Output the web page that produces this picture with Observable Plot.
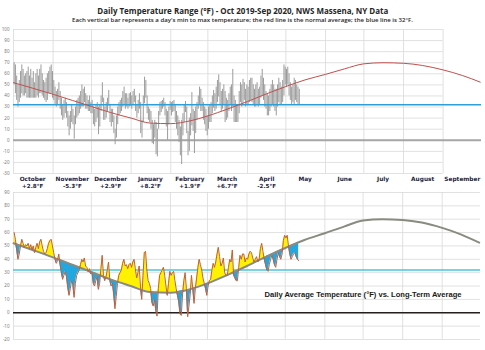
<!DOCTYPE html>
<html><head><meta charset="utf-8">
<script src="https://cdn.jsdelivr.net/npm/d3@7"></script>
<script src="https://cdn.jsdelivr.net/npm/@observablehq/plot@0.6"></script>
<style>
html,body{margin:0;padding:0;background:#fff;}
body{width:485px;height:350px;overflow:hidden;position:relative;font-family:"Open Sans",sans-serif;}
.ttl{position:absolute;left:0;width:485px;text-align:center;white-space:nowrap;color:#262626;line-height:1;}
.ttl span{display:inline-block;transform-origin:center;}
#title{top:6px;font-size:9.2px;font-weight:700;}
#sub{top:18px;font-size:5.4px;font-weight:600;}
#btitle{position:absolute;left:264px;width:197px;top:291px;line-height:1;text-align:center;white-space:nowrap;font-family:"Liberation Sans",Arial,sans-serif;font-weight:700;font-size:7px;color:#1a1a1a;}
#btitle span{display:inline-block;transform-origin:center;}
#top{position:absolute;top:26px;left:0;}
#bot{position:absolute;top:190px;left:0;}
</style></head><body>
<div id="title" class="ttl"><span>Daily Temperature Range (°F) - Oct 2019-Sep 2020, NWS Massena, NY Data</span></div>
<div id="sub" class="ttl"><span>Each vertical bar represents a day's min to max temperature; the red line is the normal average; the blue line is 32°F.</span></div>
<div id="top"></div>
<div id="bot"></div>
<div id="btitle"><span>Daily Average Temperature (°F) vs. Long-Term Average</span></div>
<script>
// ---- daily max / min temperatures (°F), Oct 1 2019 – May 11 2020 ----
const octMax = [70,68,58,50,54,62,68,64,58,60,62,66,58,64,56,62,52,60,64,58,64,68,60,54,52,56,60,62,66,68,62];
const octMin = [50,42,36,30,34,38,42,40,40,42,38,38,38,38,38,38,38,38,40,38,42,42,40,38,36,34,36,42,42,42,38];
const novMax = [54,48,44,46,52,44,38,32,36,38,34,26,22,26,32,28,22,30,36,38,40,44,50,46,48,42,40,36,40,34];
const novMin = [36,32,30,32,36,28,22,18,20,24,20,12,4,10,16,14,1,14,20,22,24,28,30,30,34,28,28,26,26,24];
const decMax = [36,30,28,32,34,30,32,40,52,38,30,34,38,45,32,28,28,22,10,22,30,34,36,38,44,48,42,42,38,42,43];
const decMin = [24,14,12,16,20,5,12,26,34,18,18,20,26,31,16,12,16,6,-4,2,14,22,24,26,30,32,28,30,28,30,31];
const janMax = [40,44,46,40,32,36,42,34,18,40,57,54,40,30,28,26,18,14,18,16,10,26,34,35,36,38,34,28,26,30,35];
const janMin = [28,32,34,26,20,24,28,6,2,16,33,38,24,18,16,10,-3,-4,2,-13,-15,10,22,25,28,30,22,12,0,14,27];
const febMax = [34,35,36,32,26,22,18,12,18,24,32,35,30,8,20,24,43,28,26,30,34,40,48,46,38,34,30,28,22];
const febMin = [22,25,26,16,10,4,-2,-14,-22,4,16,25,6,-14,-10,4,13,8,-12,6,18,28,32,26,26,18,14,8,4];
const marMax = [30,32,34,40,45,42,48,54,59,52,44,46,50,44,38,36,42,48,50,64,40,36,32,32,44,52,50,55,52,46,50];
const marMin = [10,16,16,24,29,26,28,34,39,32,26,28,32,16,18,20,26,32,26,30,16,16,16,16,24,34,30,33,36,30,32];
const aprMax = [48,54,56,56,50,46,50,52,46,48,58,64,56,50,44,42,40,46,50,54,50,46,46,50,56,52,48,54,68,66];
const aprMin = [32,34,36,34,32,30,30,32,30,32,38,40,36,30,28,22,22,26,30,32,30,26,22,30,34,32,32,34,40,50];
const mayMax = [64,66,60,52,48,50,56,54,50,48,46];
const mayMin = [48,50,40,36,32,34,32,36,34,32,32];

// ---- long-term normal daily average (°F) ----
const normalDates = ["2019-10-01","2019-10-16","2019-11-01","2019-11-16","2019-12-01","2019-12-16","2020-01-01","2020-01-16","2020-02-01","2020-02-16","2020-03-01","2020-03-16","2020-04-01","2020-04-16","2020-05-01","2020-05-16","2020-06-01","2020-06-16","2020-07-01","2020-07-16","2020-08-01","2020-08-16","2020-09-01","2020-09-16","2020-09-30"];
const normalValues = [52,47,41.5,36,30.5,25,20,15.5,15,17.5,22,28,35,42,48.5,54.5,59.5,64.5,69,70,69.5,67.5,63.5,58.5,52.5];

// ---- month labels ----
const monthNames = ["October","November","December","January","February","March","April","May","June","July","August","September"];
const monthDeparture = ["+2.8°F","-5.3°F","+2.9°F","+8.2°F","+1.9°F","+6.7°F","-2.5°F","","","","",""];
const topTicks = [100,90,80,70,60,50,40,30,20,10,0,-10,-20,-30];
const botTicks = [90,80,70,60,50,40,30,20,10,0,-10,-20];

const start = new Date(Date.UTC(2019,9,1));
const end = new Date(Date.UTC(2020,9,1));
const DAY = 86400000;
const maxAll = [octMax,novMax,decMax,janMax,febMax,marMax,aprMax,mayMax].flat();
const minAll = [octMin,novMin,decMin,janMin,febMin,marMin,aprMin,mayMin].flat();
const normal = normalDates.map((d,i)=>({date:new Date(d+"T00:00:00Z"), value:normalValues[i]}));
const normalAt = d3.scaleUtc().domain(normal.map(d=>d.date)).range(normal.map(d=>d.value));
const days = maxAll.map((mx,i)=>{
  const date = new Date(start.getTime()+i*DAY + DAY/2);
  const avg = (mx+minAll[i])/2;
  const n = normalAt(date);
  return {date, max:mx, min:minAll[i], avg, normal:n, hi:Math.max(avg,n), lo:Math.min(avg,n)};
});
const monthStarts = d3.range(12).map(i=>new Date(Date.UTC(2019,9+i,1)));
const months = monthNames.map((m,i)=>({name:m, dep:monthDeparture[i], date:new Date(Date.UTC(2019,9+i,16))}));
const sep1 = new Date(Date.UTC(2020,8,1));
const xScale = {type:"utc", domain:[start,end], axis:null};

const topChart = Plot.plot({
  width:485, height:164, marginLeft:13, marginRight:4, marginTop:3, marginBottom:17,
  x:xScale, y:{domain:[-30,100], axis:null},
  marks:[
    Plot.ruleY(topTicks, {x1:start, x2:sep1, stroke:"#d9d9d9", strokeWidth:0.8}),
    Plot.ruleX(monthStarts.filter(d=>d<=sep1), {y1:-30, y2:100, stroke:"#d9d9d9", strokeWidth:0.8}),
    Plot.text(topTicks, {x:start, y:d=>d, text:d=>String(d), dx:-4, textAnchor:"end", fontSize:4.5, fill:"#777"}),
    Plot.ruleY([0], {stroke:"#a6a6a6", strokeWidth:2}),
    Plot.ruleX(days, {x:"date", y1:"min", y2:"max", stroke:"#9c9c9c", strokeWidth:1}),
    Plot.ruleY([32], {stroke:"#2d9fd8", strokeWidth:1.6}),
    Plot.line(normal, {x:"date", y:"value", stroke:"#c0504d", strokeWidth:1, curve:"monotone-x"}),
    Plot.text(months, {x:"date", y:-30, dy:6, text:"name", fontWeight:"bold", fontSize:5.8, fill:"#1c1c3c", fontFamily:"DejaVu Sans"}),
    Plot.text(months, {x:"date", y:-30, dy:13, text:"dep", fontWeight:"bold", fontSize:5.6, fill:"#1c1c3c", fontFamily:"DejaVu Sans"})
  ]
});
document.getElementById("top").appendChild(topChart);

const botChart = Plot.plot({
  width:485, height:160, marginLeft:13, marginRight:5, marginTop:2, marginBottom:11,
  x:xScale, y:{domain:[-20,90], axis:null},
  marks:[
    Plot.ruleY(botTicks, {x1:start, x2:end, stroke:"#d9d9d9", strokeWidth:0.8}),
    Plot.ruleX(monthStarts, {y1:-20, y2:90, stroke:"#d9d9d9", strokeWidth:0.8}),
    Plot.text(botTicks, {x:start, y:d=>d, text:d=>String(d), dx:-4, textAnchor:"end", fontSize:4.5, fill:"#777"}),
    Plot.ruleY([32], {stroke:"#4cc6d8", strokeWidth:1.5}),
    Plot.areaY(days, {x:"date", y1:"normal", y2:"hi", fill:"#fff200"}),
    Plot.areaY(days, {x:"date", y1:"lo", y2:"normal", fill:"#22a7e0"}),
    Plot.ruleY([0], {stroke:"#231f1f", strokeWidth:1.6}),
    Plot.line(normal, {x:"date", y:"value", stroke:"#8a8a80", strokeWidth:2, curve:"monotone-x"}),
    Plot.line(days, {x:"date", y:"avg", stroke:"#c0603f", strokeWidth:1})
  ]
});
document.getElementById("bot").appendChild(botChart);

function fit(id, target){
  const s = document.querySelector("#"+id+" span");
  const w = s.getBoundingClientRect().width;
  s.style.transform = "scaleX("+(target/w)+")";
}
fit("title", 291); fit("sub", 341); fit("btitle", 197);
</script>
</body></html>
